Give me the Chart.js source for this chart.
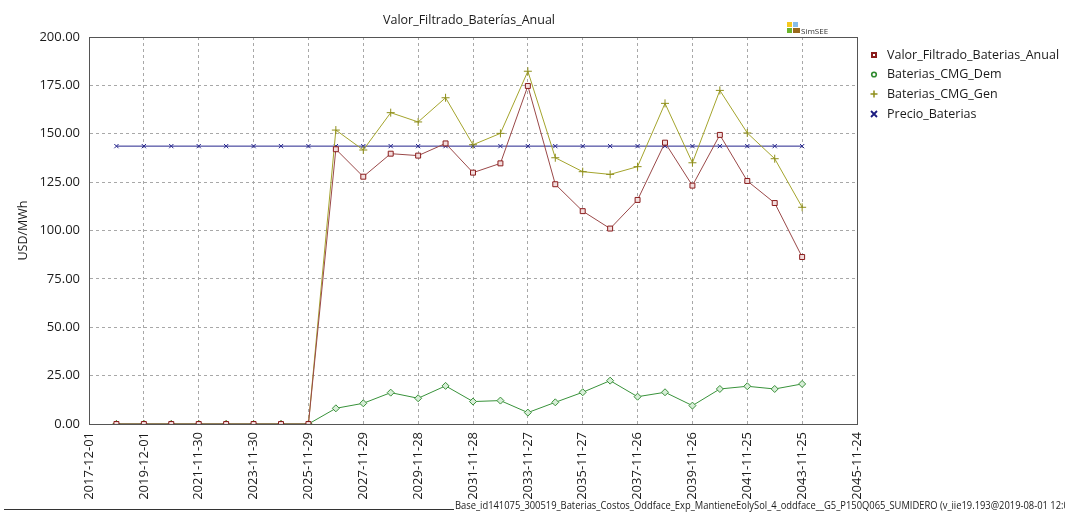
<!DOCTYPE html>
<html>
<head>
<meta charset="utf-8">
<title>Valor_Filtrado_Baterías_Anual</title>
<script src="https://cdn.jsdelivr.net/npm/chart.js@4.4.1/dist/chart.umd.min.js"></script>
<style>
  html, body { margin: 0; padding: 0; background: #ffffff; }
  #wrap { position: relative; width: 1065px; height: 512px; }
</style>
</head>
<body>
<div id="wrap"><canvas id="chart" width="1065" height="512"></canvas></div>
<script>
// Axis tick dates (every two years)
const tickLabels = ['2017-12-01','2019-12-01','2021-11-30','2023-11-30','2025-11-29','2027-11-29',
  '2029-11-28','2031-11-28','2033-11-27','2035-11-27','2037-11-26','2039-11-26','2041-11-25',
  '2043-11-25','2045-11-24'];

// One point per year; position = years after 2017-12-01
const periods = [1,2,3,4,5,6,7,8,9,10,11,12,13,14,15,16,17,18,19,20,21,22,23,24,25,26];

const valorFiltrado = [0,0,0,0,0,0,0,0,
  142.0,127.8,139.7,138.7,145.0,129.9,134.7,174.7,123.9,
  110.0,101.0,115.8,145.4,123.2,149.4,125.6,114.2,86.3];
const cmgDem = [0,0,0,0,0,0,0,0,
  8.1,10.7,16.2,13.3,19.7,11.6,12.1,5.9,11.2,
  16.4,22.4,14.1,16.4,9.5,18.1,19.5,18.1,20.7];
const cmgGen = [0,0,0,0,0,0,0,0,
  151.9,141.6,160.9,156.1,168.6,144.3,150.2,182.3,137.6,
  130.4,129.0,133.0,165.7,135.0,172.4,150.4,137.1,112.0];
const precio = [143.6,143.6,143.6,143.6,143.6,143.6,143.6,143.6,
  143.6,143.6,143.6,143.6,143.6,143.6,143.6,143.6,143.6,
  143.6,143.6,143.6,143.6,143.6,143.6,143.6,143.6,143.6];

const seriesNames = ['Valor_Filtrado_Baterias_Anual','Baterias_CMG_Dem','Baterias_CMG_Gen','Precio_Baterias'];
const footerText = 'Base_id141075_300519_Baterias_Costos_Oddface_Exp_MantieneEolySol_4_oddface__G5_P150Q065_SUMIDERO (v_iie19.193@2019-08-01 12:00)';

const FONT = "'Open Sans', 'Noto Sans', sans-serif";

function pts(values) {
  return periods.map((p, i) => ({ x: p, y: values[i] }));
}

const datasets = [
  { label: seriesNames[0], data: pts(valorFiltrado), borderColor: '#9a4848', borderWidth: 1,
    pointStyle: 'rect', pointRadius: 3.5, pointBorderColor: '#8a1c1c', pointBackgroundColor: '#f3dede', pointBorderWidth: 1 },
  { label: seriesNames[1], data: pts(cmgDem), borderColor: '#38923a', borderWidth: 1,
    pointStyle: 'rectRot', pointRadius: 3.5, pointBorderColor: '#3a903a', pointBackgroundColor: '#d7eed7', pointBorderWidth: 1 },
  { label: seriesNames[2], data: pts(cmgGen), borderColor: '#a4a42c', borderWidth: 1,
    pointStyle: 'cross', pointRadius: 4, pointBorderColor: '#8e8e1a', pointBorderWidth: 1 },
  { label: seriesNames[3], data: pts(precio), borderColor: '#25258c', borderWidth: 1,
    pointStyle: 'crossRot', pointRadius: 3, pointBorderColor: '#25258c', pointBorderWidth: 1 }
];

// Frame, title, legend, logo and footer
const decorations = {
  id: 'decorations',
  afterDraw(chart) {
    const ctx = chart.ctx;
    const a = chart.chartArea;
    ctx.save();
    // plot frame
    ctx.strokeStyle = '#555555';
    ctx.lineWidth = 1;
    ctx.strokeRect(Math.round(a.left) + 0.5, Math.round(a.top) + 0.5,
                   Math.round(a.right - a.left), Math.round(a.bottom - a.top));

    // title
    ctx.fillStyle = '#1a1a1a';
    ctx.font = "12.5px " + FONT;
    ctx.textAlign = 'center';
    ctx.textBaseline = 'middle';
    ctx.fillText('Valor_Filtrado_Baterías_Anual', 469, 20);

    // legend
    ctx.textAlign = 'left';
    ctx.font = "12.5px " + FONT;
    const ly = [55, 74.5, 94, 114];
    const mx = 874;
    seriesNames.forEach((name, i) => {
      const y = ly[i];
      ctx.fillStyle = '#1a1a1a';
      ctx.fillText(name, 887, y);
      if (i === 0) {
        ctx.fillStyle = '#8a1c1c';
        ctx.fillRect(mx - 3, y - 3, 6, 6);
        ctx.fillStyle = '#ffffff';
        ctx.fillRect(mx - 1, y - 1, 2, 2);
      } else if (i === 1) {
        ctx.strokeStyle = '#2f8a2f';
        ctx.lineWidth = 1.6;
        ctx.beginPath();
        ctx.arc(mx, y, 2.3, 0, Math.PI * 2);
        ctx.stroke();
      } else if (i === 2) {
        ctx.strokeStyle = '#8e8e1a';
        ctx.lineWidth = 1.5;
        ctx.beginPath();
        ctx.moveTo(mx - 3.5, y); ctx.lineTo(mx + 3.5, y);
        ctx.moveTo(mx, y - 3.5); ctx.lineTo(mx, y + 3.5);
        ctx.stroke();
      } else {
        ctx.strokeStyle = '#1c1c80';
        ctx.lineWidth = 1.8;
        ctx.beginPath();
        ctx.moveTo(mx - 3, y - 3); ctx.lineTo(mx + 3, y + 3);
        ctx.moveTo(mx + 3, y - 3); ctx.lineTo(mx - 3, y + 3);
        ctx.stroke();
      }
    });

    // SimSEE mark
    ctx.fillStyle = '#ffffff';
    ctx.fillRect(786, 19, 15, 17);
    ctx.fillStyle = '#f6c81e'; ctx.fillRect(787, 22, 5, 5);
    ctx.fillStyle = '#86bde9'; ctx.fillRect(793, 22, 5, 5);
    ctx.fillStyle = '#6cb52c'; ctx.fillRect(787, 28, 5, 5);
    ctx.fillStyle = '#9a6a1c'; ctx.fillRect(793, 28, 7, 5);
    ctx.fillStyle = '#333333';
    ctx.font = "8px " + FONT;
    ctx.textAlign = 'left';
    ctx.textBaseline = 'alphabetic';
    ctx.fillText('SimSEE', 801, 34);

    // footer rule and run identifier
    ctx.strokeStyle = '#333333';
    ctx.lineWidth = 1;
    ctx.beginPath();
    ctx.moveTo(4, 509.5); ctx.lineTo(454, 509.5);
    ctx.stroke();
    ctx.fillStyle = '#1a1a1a';
    ctx.font = "10px " + FONT;
    const w = ctx.measureText(footerText).width;
    const target = 622;
    ctx.save();
    ctx.translate(455, 506);
    ctx.scale(target / w, 1);
    ctx.textBaseline = 'middle';
    ctx.fillText(footerText, 0, 0);
    ctx.restore();
    ctx.restore();
  }
};

new Chart(document.getElementById('chart'), {
  type: 'line',
  data: { datasets },
  options: {
    responsive: false,
    animation: false,
    layout: { padding: { top: 37, right: 208, left: 0, bottom: 0 } },
    plugins: {
      legend: { display: false },
      title: { display: false },
      tooltip: { enabled: false }
    },
    elements: { line: { tension: 0 } },
    scales: {
      x: {
        type: 'linear',
        min: 0, max: 28,
        afterFit(scale) { scale.height = 88; },
        afterBuildTicks(scale) {
          scale.ticks = tickLabels.map((_, i) => ({ value: i * 2 }));
        },
        ticks: {
          autoSkip: false,
          minRotation: 90, maxRotation: 90,
          padding: 8,
          color: '#1a1a1a',
          font: { family: FONT, size: 13 },
          callback: (v) => tickLabels[Math.round(v / 2)]
        },
        grid: { color: '#a8a8a8', lineWidth: 1, drawTicks: false },
        border: { display: true, color: '#555555', width: 1, dash: [3, 3] }
      },
      y: {
        min: 0, max: 200,
        afterFit(scale) { scale.width = 89; },
        ticks: {
          stepSize: 25,
          padding: 9,
          color: '#1a1a1a',
          font: { family: FONT, size: 13 },
          callback: (v) => v.toFixed(2)
        },
        title: {
          display: true, text: 'USD/MWh', color: '#1a1a1a',
          font: { family: FONT, size: 12.5 },
          padding: { top: 16, bottom: 0 }
        },
        grid: { color: '#a8a8a8', lineWidth: 1, drawTicks: false },
        border: { display: true, color: '#555555', width: 1, dash: [3, 3] }
      }
    }
  },
  plugins: [decorations]
});
</script>
</body>
</html>
